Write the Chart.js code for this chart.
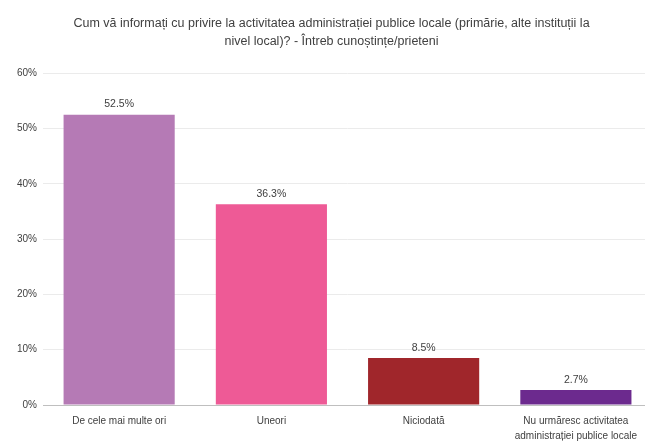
<!DOCTYPE html>
<html>
<head>
<meta charset="utf-8">
<script src="https://cdn.jsdelivr.net/npm/chart.js@4/dist/chart.umd.min.js"></script>
<style>
  html, body { margin: 0; padding: 0; background: white; overflow: hidden; }
  #wrap { width: 652px; height: 453px; }
</style>
</head>
<body>
<div id="wrap"><canvas id="c"></canvas></div>
<script>
const categories = [
  'De cele mai multe ori',
  'Uneori',
  'Niciodată',
  ['Nu urmăresc activitatea', 'administrației publice locale']
];
const values = [52.5, 36.3, 8.5, 2.7];
const barColors = ['#B57AB5', '#EE5A96', '#A0262B', '#6C2A8E'];
const titleLines = [
  'Cum vă informați cu privire la activitatea administrației publice locale (primărie, alte instituții la',
  'nivel local)? - Întreb cunoștințe/prieteni'
];

const FONT = "'Liberation Sans', Arial, sans-serif";

const valueLabels = {
  id: 'valueLabels',
  afterDatasetsDraw(chart) {
    const ctx = chart.ctx;
    const meta = chart.getDatasetMeta(0);
    ctx.save();
    ctx.font = '10.5px ' + FONT;
    ctx.fillStyle = '#404040';
    ctx.textAlign = 'center';
    ctx.textBaseline = 'bottom';
    meta.data.forEach((bar, i) => {
      ctx.fillText(values[i].toFixed(1) + '%', bar.x, bar.y - 5);
    });
    ctx.restore();
  }
};

new Chart(document.getElementById('c'), {
  type: 'bar',
  data: {
    labels: categories,
    datasets: [{
      data: values,
      backgroundColor: barColors,
      categoryPercentage: 0.73,
      barPercentage: 1.0
    }]
  },
  options: {
    responsive: true,
    maintainAspectRatio: false,
    animation: false,
    layout: { padding: { left: 11, right: 0, top: 9, bottom: 0 } },
    plugins: {
      legend: { display: false },
      tooltip: { enabled: false },
      title: {
        display: true,
        text: titleLines,
        color: '#404040',
        font: { family: FONT, size: 12.5, weight: 'normal', lineHeight: 1.45 },
        padding: { top: 5, bottom: 23 }
      }
    },
    scales: {
      x: {
        grid: { display: false, drawTicks: false },
        border: { display: true, color: '#BFBFBF' },
        ticks: {
          color: '#404040',
          font: { family: FONT, size: 10, lineHeight: 1.5 },
          padding: 9,
          maxRotation: 0,
          autoSkip: false
        }
      },
      y: {
        min: 0,
        max: 60,
        grid: { color: '#EBEBEB', drawTicks: false },
        border: { display: false },
        ticks: {
          stepSize: 10,
          color: '#404040',
          font: { family: FONT, size: 10 },
          padding: 6,
          callback: v => v + '%'
        }
      }
    }
  },
  plugins: [valueLabels]
});
</script>
</body>
</html>
